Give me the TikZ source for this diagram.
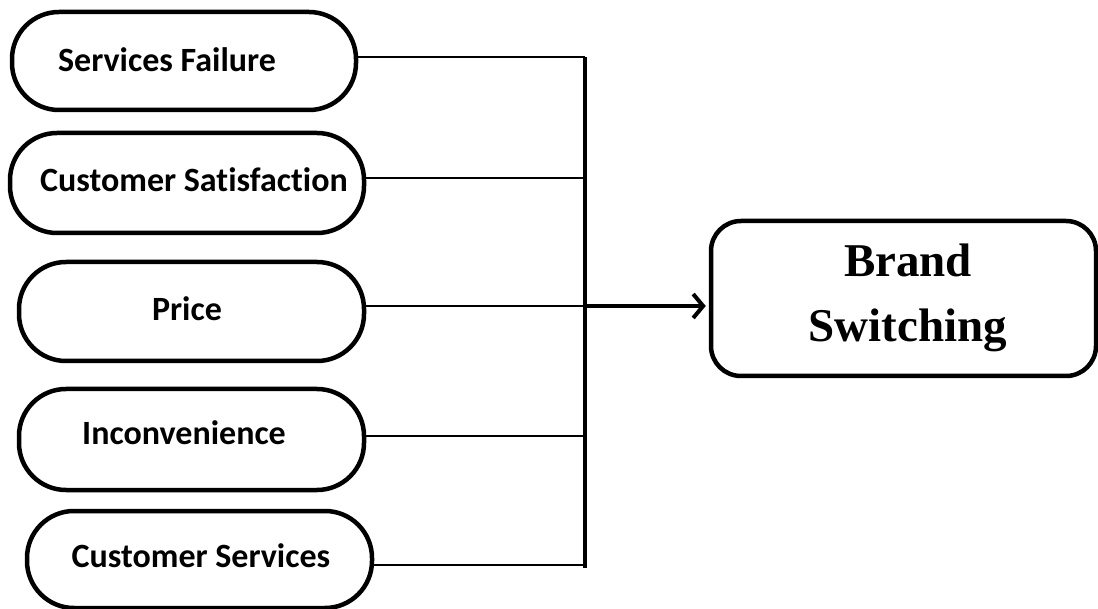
\documentclass[tikz,border=0pt]{standalone}
\usepackage{fontspec}
\newfontfamily\boxfont[Ligatures=NoCommon]{Carlito}
\newfontfamily\brandfont{Liberation Serif}
\usetikzlibrary{arrows.meta,calc}
\begin{document}
\begin{tikzpicture}[x=1pt,y=-1pt,
  factorbox/.style={draw=black,line width=4.5pt,rounded corners=47pt,inner sep=0pt,minimum width=#1,minimum height=99pt},
  factortext/.style={anchor=base,inner sep=0pt,font=\boxfont\bfseries\fontsize{34}{40}\selectfont},
  brandbox/.style={draw=black,line width=4.5pt,rounded corners=30pt,inner sep=0pt,minimum width=385pt,minimum height=155pt},
  thinline/.style={line width=1.8pt},
  busline/.style={line width=4pt},
  arrowline/.style={line width=4pt,-{Straight Barb[length=10pt,width=24pt,line width=4pt]}}]
\useasboundingbox (0,0) rectangle (1098,609);
% factor boxes
\node[factorbox=344pt,minimum height=98pt] (b1) at (184,61) {};
\node[factorbox=354pt,minimum height=100pt] (b2) at (187,183) {};
\node[factorbox=345pt] (b3) at (191.5,311.5) {};
\node[factorbox=345pt,minimum height=101pt] (b4) at (191.5,439.5) {};
\node[factorbox=345pt,minimum height=97pt] (b5) at (199.5,559.5) {};
% texts
\node[factortext] (t1) at (167,72) {Services Failure};
\node[factortext] (t2) at (194,192) {Customer Satisfaction};
\node[factortext] (t3) at (187,321) {Price};
\node[factortext] (t4) at (184,445) {Inconvenience};
\node[factortext] (t5) at (201,567) {Customer Services};
% bus
\coordinate (bustop) at (585,57);
\coordinate (busbot) at (585,568);
\coordinate (busmid) at (585,306);
\draw[busline] (bustop) -- (busbot);
\draw[thinline] ([yshift=4pt]b1.east) -- ([yshift=4pt]b1.east -| bustop);
\draw[thinline] ([yshift=5pt]b2.east) -- ([yshift=5pt]b2.east -| bustop);
\draw[thinline] ([yshift=5.5pt]b3.east) -- ([yshift=5.5pt]b3.east -| bustop);
\draw[thinline] ([yshift=3.5pt]b4.east) -- ([yshift=3.5pt]b4.east -| bustop);
\draw[thinline] ([yshift=-5.5pt]b5.east) -- ([yshift=-5.5pt]b5.east -| bustop);
% brand switching
\node[brandbox] (brand) at (903.5,298.5) {};
\node[anchor=base,inner sep=0pt,font=\brandfont\bfseries\fontsize{47}{52}\selectfont] (bt1) at (908,277) {Brand};
\node[anchor=base,inner sep=0pt,font=\brandfont\bfseries\fontsize{47}{52}\selectfont] (bt2) at (908,342) {Switching};
\draw[arrowline] (busmid) -- ([xshift=-3pt]busmid -| brand.west);
\end{tikzpicture}
\end{document}
